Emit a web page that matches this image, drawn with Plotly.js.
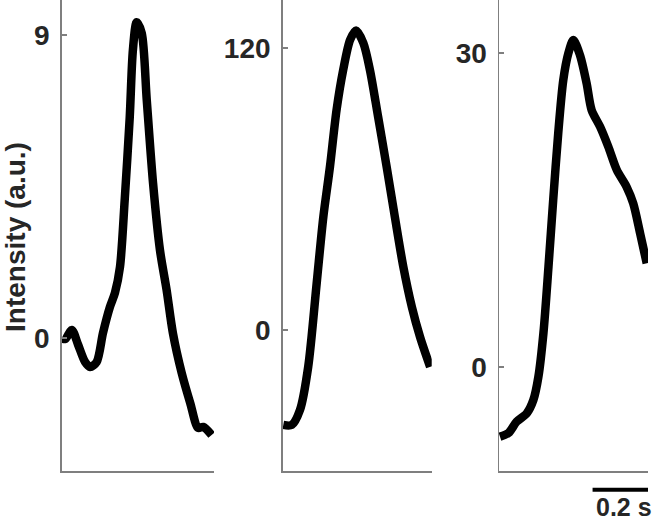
<!DOCTYPE html>
<html>
<head>
<meta charset="utf-8">
<script src="https://cdn.plot.ly/plotly-3.0.1.min.js"></script>
<style>
  html, body { margin: 0; padding: 0; background: #fff; }
  #plotDiv { width: 658px; height: 521px; }
</style>
</head>
<body>
<div id="plotDiv"></div>
<script>
// time (s) and intensity (a.u.)
const t1 = [0, 0.011, 0.032, 0.052, 0.074, 0.09, 0.111, 0.131, 0.153, 0.169, 0.185, 0.2, 0.216, 0.226, 0.238, 0.254, 0.27, 0.29, 0.312, 0.333, 0.353, 0.381, 0.408, 0.433, 0.449, 0.476];
const y1 = [0, -0.03, 0.24, -0.2, -0.71, -0.86, -0.71, 0.15, 0.92, 1.34, 2.11, 4.1, 6.56, 8.55, 9.38, 9.06, 7.07, 4.6, 2.61, 1.43, 0.15, -1.04, -1.93, -2.67, -2.64, -2.88];

const t2 = [0.002, 0.029, 0.055, 0.081, 0.108, 0.129, 0.15, 0.171, 0.192, 0.214, 0.233, 0.256, 0.277, 0.303, 0.33, 0.356, 0.383, 0.41, 0.436, 0.468];
const y2 = [-40.4, -40.4, -34, -15.7, 20, 48.1, 69.4, 93.6, 110.6, 123.4, 127.4, 122.1, 110.6, 90.6, 69.4, 48.1, 26.8, 9.8, -3, -15.7];

const t3 = [0.003, 0.03, 0.056, 0.088, 0.109, 0.125, 0.141, 0.157, 0.172, 0.188, 0.204, 0.22, 0.236, 0.257, 0.278, 0.294, 0.321, 0.347, 0.374, 0.405, 0.426, 0.448, 0.469];
const y3 = [-6.66, -6.3, -5.22, -4.42, -3.15, -0.93, 3.25, 9.58, 15.95, 22.35, 27.41, 29.96, 31.23, 29.8, 27.12, 24.55, 22.95, 21.04, 18.82, 17.22, 15.64, 12.77, 9.9];

const yTicks1 = [0, 9];
const yTicks2 = [0, 120];
const yTicks3 = [0, 30];

const scaleBarStart = 0.297;
const scaleBarLen = 0.2;
const scaleLabel = "0.2 s";
const yLabel = "Intensity (a.u.)";

const boldFont = { family: "Liberation Sans, Arial, sans-serif", size: 28, weight: "bold", color: "#262626" };
const axisGray = "#7f7f7f";

const lineStyle = { color: "black", width: 8.5, shape: "spline", smoothing: 0.8 };

const traces = [
  { x: t1, y: y1, xaxis: "x", yaxis: "y", type: "scatter", mode: "lines", line: lineStyle, hoverinfo: "skip" },
  { x: t2, y: y2, xaxis: "x2", yaxis: "y2", type: "scatter", mode: "lines", line: lineStyle, hoverinfo: "skip" },
  { x: t3, y: y3, xaxis: "x3", yaxis: "y3", type: "scatter", mode: "lines", line: lineStyle, hoverinfo: "skip" },
];

function xAxis(domain, range, anchor) {
  return {
    domain: domain, range: range, anchor: anchor,
    showline: true, linecolor: axisGray, linewidth: 1.5,
    showgrid: false, zeroline: false, ticks: "", showticklabels: false, fixedrange: true,
  };
}

function yAxis(range, ticks, anchor) {
  return {
    domain: [0, 1], range: range, anchor: anchor,
    showline: true, linecolor: axisGray, linewidth: 1.5,
    showgrid: false, zeroline: false,
    ticks: "inside", ticklen: 5, tickwidth: 1.5, tickcolor: axisGray,
    tickmode: "array", tickvals: ticks, ticktext: ticks.map(String),
    tickfont: boldFont, ticklabelstandoff: 5, fixedrange: true,
  };
}

const layout = {
  width: 658, height: 521,
  margin: { l: 0, r: 0, t: 0, b: 50 },
  paper_bgcolor: "white", plot_bgcolor: "white",
  showlegend: false,
  xaxis: xAxis([0.0938, 0.3252], [0, 0.4835], "y"),
  xaxis2: xAxis([0.4296, 0.6561], [0, 0.473], "y2"),
  xaxis3: xAxis([0.7584, 0.9848], [0, 0.473], "y3"),
  yaxis: yAxis([-3.95, 10.04], yTicks1, "x"),
  yaxis2: yAxis([-60, 140.4], yTicks2, "x2"),
  yaxis3: yAxis([-9.93, 35.06], yTicks3, "x3"),
  shapes: [
    {
      type: "line", xref: "x3", yref: "paper",
      x0: scaleBarStart, x1: scaleBarStart + scaleBarLen, y0: -0.04, y1: -0.04,
      line: { color: "black", width: 4 },
    },
  ],
  annotations: [
    {
      text: yLabel, xref: "paper", yref: "paper", x: 16 / 658, y: 0.497,
      textangle: -90, showarrow: false, font: boldFont, xanchor: "center", yanchor: "middle",
    },
    {
      text: scaleLabel, xref: "paper", yref: "paper", x: 654 / 658, y: -0.077,
      showarrow: false, font: Object.assign({}, boldFont, { size: 25 }), xanchor: "right", yanchor: "middle",
    },
  ],
};

Plotly.newPlot("plotDiv", traces, layout, { displayModeBar: false, staticPlot: true });
</script>
</body>
</html>
